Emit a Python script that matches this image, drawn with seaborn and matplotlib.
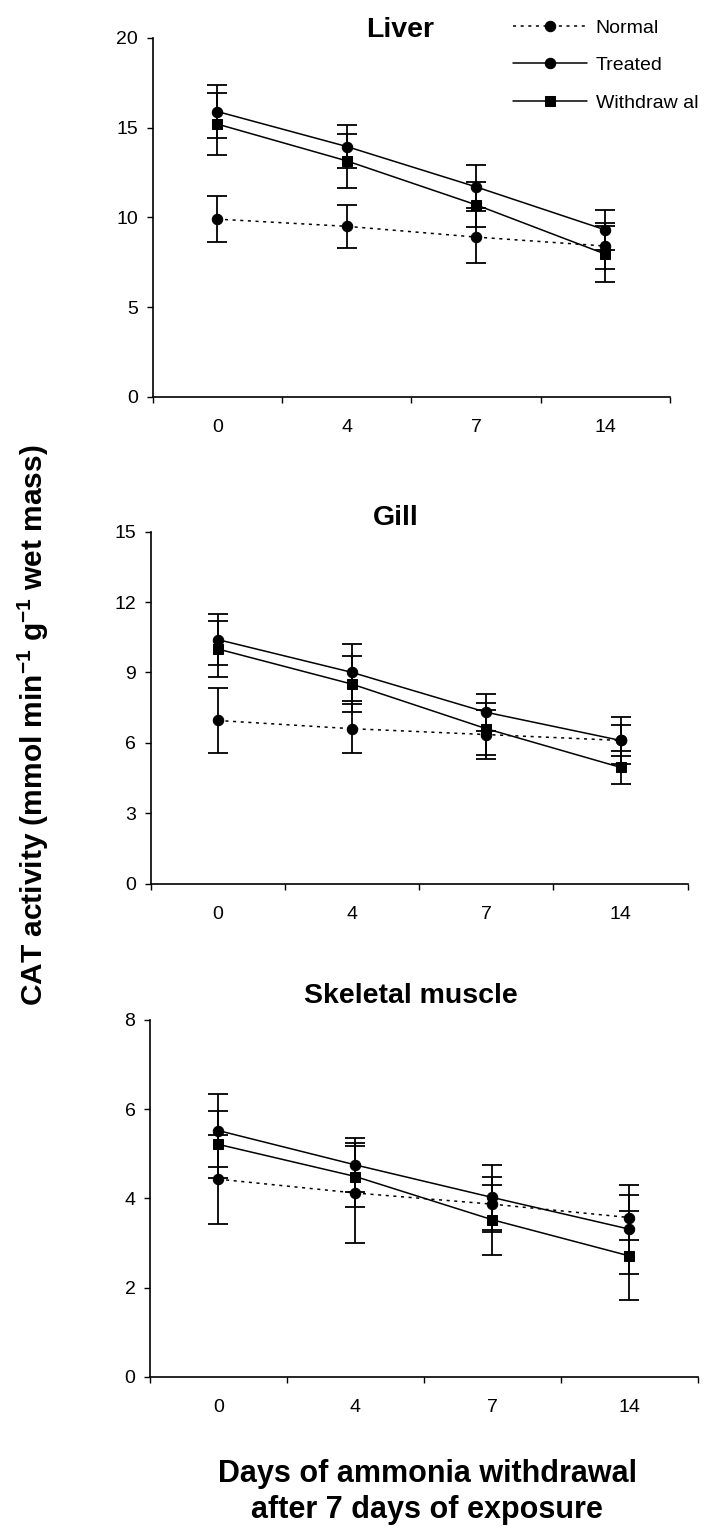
import matplotlib
matplotlib.use("Agg")
import matplotlib.pyplot as plt
import seaborn as sns
import numpy as np
import pandas as pd

# ---------------- data ----------------
days = ["0", "4", "7", "14"]
groups = ["Normal", "Treated", "Withdraw al"]

liver_normal = [9.9, 9.5, 8.9, 8.4]
liver_normal_err = [1.3, 1.2, 1.45, 1.3]
liver_treated = [15.9, 13.95, 11.7, 9.3]
liver_treated_err = [1.5, 1.2, 1.2, 1.1]
liver_withdrawal = [15.2, 13.15, 10.7, 7.95]
liver_withdrawal_err = [1.75, 1.5, 1.25, 1.55]

gill_normal = [6.95, 6.6, 6.35, 6.1]
gill_normal_err = [1.4, 1.05, 1.05, 0.65]
gill_treated = [10.4, 9.0, 7.3, 6.1]
gill_treated_err = [1.1, 1.2, 0.8, 1.0]
gill_withdrawal = [10.0, 8.5, 6.6, 4.95]
gill_withdrawal_err = [1.2, 1.2, 1.1, 0.7]

muscle_normal = [4.43, 4.12, 3.87, 3.57]
muscle_normal_err = [1.0, 1.12, 0.62, 0.5]
muscle_treated = [5.52, 4.75, 4.02, 3.31]
muscle_treated_err = [0.82, 0.6, 0.72, 1.0]
muscle_withdrawal = [5.21, 4.49, 3.52, 2.71]
muscle_withdrawal_err = [0.75, 0.68, 0.78, 1.0]

titles = ["Liver", "Gill", "Skeletal muscle"]
y_max = [20, 15, 8]
y_step = [5, 3, 2]

# ---------------- style ----------------
sns.set_theme(style="ticks")
plt.rcParams["font.family"] = ["Liberation Sans", "DejaVu Sans"]
plt.rcParams["mathtext.fontset"] = "custom"
plt.rcParams["mathtext.rm"] = "Liberation Sans"
plt.rcParams["mathtext.bf"] = "Liberation Sans:bold"
plt.rcParams["mathtext.default"] = "bf"
for k in ["text.color", "axes.labelcolor", "xtick.color", "ytick.color",
          "axes.edgecolor"]:
    plt.rcParams[k] = "black"

W, H = 704, 1526
fig = plt.figure(figsize=(W / 100, H / 100), dpi=100)

# axes rectangles in pixels: left, right, top, bottom
rects = [(152.7, 670.0, 38.0, 396.7),
         (150.7, 687.7, 531.7, 883.5),
         (150.0, 697.7, 1020.0, 1376.7)]
title_pos = [(0.478, 1.004), (0.457, 1.019), (0.477, 1.047)]

tissues = [
    [(liver_normal, liver_normal_err), (liver_treated, liver_treated_err),
     (liver_withdrawal, liver_withdrawal_err)],
    [(gill_normal, gill_normal_err), (gill_treated, gill_treated_err),
     (gill_withdrawal, gill_withdrawal_err)],
    [(muscle_normal, muscle_normal_err), (muscle_treated, muscle_treated_err),
     (muscle_withdrawal, muscle_withdrawal_err)],
]

line_styles = [(0, (2.0, 3.0)), "-", "-"]
markers = ["o", "o", "s"]
msizes = [7.5, 7.5, 7.0]

axes = []
for i, (l, r, t, b) in enumerate(rects):
    ax = fig.add_axes([l / W, 1 - b / H, (r - l) / W, (b - t) / H])
    axes.append(ax)
    x = np.arange(len(days))
    for g, (vals, errs) in enumerate(tissues[i]):
        df = pd.DataFrame({"pos": x, "value": vals})
        sns.lineplot(data=df, x="pos", y="value", ax=ax, color="black",
                     linestyle=line_styles[g], linewidth=1.1,
                     marker=markers[g], markersize=msizes[g],
                     markeredgecolor="black", markerfacecolor="black",
                     label=groups[g], zorder=3)
        ax.errorbar(x, vals, yerr=errs, fmt="none", ecolor="black",
                    elinewidth=1.3, capsize=7, capthick=1.3, zorder=2)
    ax.set_xlim(-0.5, len(days) - 0.5)
    ax.set_ylim(0, y_max[i])
    ax.set_yticks(np.arange(0, y_max[i] + 0.01, y_step[i]))
    ax.set_xticks(x)
    ax.set_xticklabels(days)
    ax.set_xticks(np.arange(-0.5, len(days), 1.0), minor=True)
    ax.tick_params(axis="x", which="major", length=0, pad=16, labelsize=14)
    ax.tick_params(axis="x", which="minor", length=4.5, width=1.0,
                   direction="out", color="black")
    ax.tick_params(axis="y", length=4.5, width=1.0, pad=6, labelsize=14,
                   direction="out", color="black")
    for s in ["top", "right"]:
        ax.spines[s].set_visible(False)
    for s in ["left", "bottom"]:
        ax.spines[s].set_color("black")
        ax.spines[s].set_linewidth(1.2)
    ax.set_xlabel("")
    ax.set_ylabel("")
    ax.text(title_pos[i][0], title_pos[i][1], titles[i], transform=ax.transAxes,
            ha="center", va="baseline", fontsize=20.5, fontweight="bold")
    handles, labels = ax.get_legend_handles_labels()
    if ax.get_legend() is not None:
        ax.get_legend().remove()
    if i == 0:
        leg_handles, leg_labels = handles, labels

fig.legend(leg_handles, leg_labels, loc="upper left",
           bbox_to_anchor=(513 / W, 1 - 19 / H), frameon=False,
           fontsize=14, handlelength=3.8, handletextpad=0.45,
           labelspacing=1.03, borderpad=0, borderaxespad=0)

fig.text(33 / W, 1 - 725 / H,
         r"CAT activity (mmol min$^{-1}$ g$^{-1}$ wet mass)",
         rotation=90, ha="center", va="center", fontsize=21.5,
         fontweight="bold")
fig.text(427 / W, 1 - 1492 / H,
         "Days of ammonia withdrawal\nafter 7 days of exposure",
         ha="center", va="center", fontsize=22, fontweight="bold",
         linespacing=1.25)

fig.savefig("out.png", dpi=100)
